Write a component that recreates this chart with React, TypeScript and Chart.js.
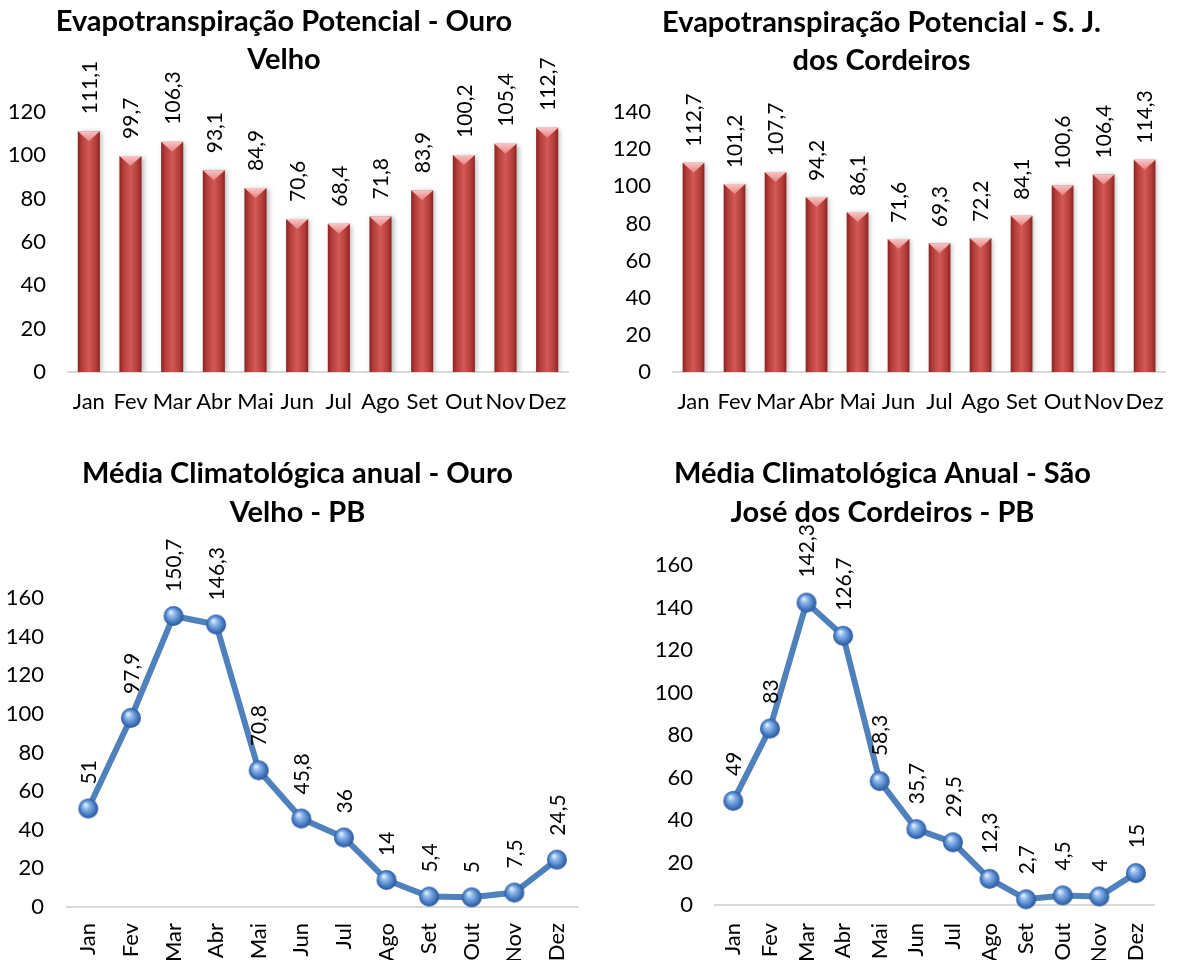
import React, { useEffect, useRef } from 'react';
import { Chart, registerables } from 'chart.js';

Chart.register(...registerables);

// ---------- data ----------
const months = ['Jan', 'Fev', 'Mar', 'Abr', 'Mai', 'Jun', 'Jul', 'Ago', 'Set', 'Out', 'Nov', 'Dez'];
const etpOuroVelho = [111.1, 99.7, 106.3, 93.1, 84.9, 70.6, 68.4, 71.8, 83.9, 100.2, 105.4, 112.7];
const etpSaoJose = [112.7, 101.2, 107.7, 94.2, 86.1, 71.6, 69.3, 72.2, 84.1, 100.6, 106.4, 114.3];
const chuvaOuroVelho = [51, 97.9, 150.7, 146.3, 70.8, 45.8, 36, 14, 5.4, 5, 7.5, 24.5];
const chuvaSaoJose = [49, 83, 142.3, 126.7, 58.3, 35.7, 29.5, 12.3, 2.7, 4.5, 4, 15];

const title1 = ['Evapotranspiração Potencial - Ouro', 'Velho'];
const title2 = ['Evapotranspiração Potencial - S. J.', 'dos Cordeiros'];
const title3 = ['Média Climatológica anual - Ouro', 'Velho - PB'];
const title4 = ['Média Climatológica Anual - São', 'José dos Cordeiros - PB'];

// ---------- styling ----------
const FONT = 'Lato, "Open Sans", sans-serif';
const BAR_PCT = 0.53;
const tickFont = { family: FONT, size: 22 };
const LABEL_SIZE = 21;

function fmt(v: number) {
  return String(v).replace('.', ',');
}

const valueLabels = {
  id: 'valueLabels',
  afterDatasetsDraw(chart: any, _args: any, opts: any) {
    const { ctx } = chart;
    const meta = chart.getDatasetMeta(0);
    const data = chart.data.datasets[0].data as number[];
    ctx.save();
    ctx.font = `${opts.size}px ${FONT}`;
    ctx.fillStyle = '#000';
    ctx.textAlign = 'left';
    ctx.textBaseline = 'middle';
    meta.data.forEach((el: any, i: number) => {
      ctx.save();
      ctx.translate(el.x + 1, el.y - opts.offset);
      ctx.rotate(-Math.PI / 2);
      ctx.fillText(fmt(data[i]), 0, 0);
      ctx.restore();
    });
    ctx.restore();
  },
};

const barEffects = {
  id: 'barEffects',
  beforeDatasetDraw(chart: any) {
    if (chart.config.type !== 'bar') return;
    const ctx = chart.ctx;
    ctx.save();
    ctx.shadowColor = 'rgba(0,0,0,0.28)';
    ctx.shadowBlur = 5;
    ctx.shadowOffsetX = 2;
    ctx.shadowOffsetY = 1;
  },
  afterDatasetDraw(chart: any) {
    if (chart.config.type !== 'bar') return;
    const ctx = chart.ctx;
    ctx.restore();
    const meta = chart.getDatasetMeta(0);
    ctx.save();
    meta.data.forEach((el: any) => {
      const w = el.width;
      const l = el.x - w / 2;
      const r = el.x + w / 2;
      const t = el.y;
      const g = ctx.createLinearGradient(0, t, 0, t + 10);
      g.addColorStop(0, 'rgba(250,205,205,0.95)');
      g.addColorStop(1, 'rgba(235,140,138,0.85)');
      ctx.fillStyle = g;
      ctx.beginPath();
      ctx.moveTo(l, t);
      ctx.lineTo(r, t);
      ctx.lineTo(el.x, t + 10);
      ctx.closePath();
      ctx.fill();
    });
    ctx.restore();
  },
};

function barFill(c: any) {
  const chart = c.chart;
  const xs = chart.scales && chart.scales.x;
  if (!xs || c.dataIndex === undefined || !chart.chartArea) return '#C0504D';
  const cx = xs.getPixelForValue(c.dataIndex);
  const w = (xs.width / months.length) * BAR_PCT;
  const g = chart.ctx.createLinearGradient(cx - w / 2, 0, cx + w / 2, 0);
  g.addColorStop(0, '#8A2422');
  g.addColorStop(0.18, '#B33D3A');
  g.addColorStop(0.5, '#D35955');
  g.addColorStop(0.82, '#B33D3A');
  g.addColorStop(1, '#8A2422');
  return g;
}

function makeSphere(r: number) {
  const c = document.createElement('canvas');
  const s = r * 2 + 2;
  c.width = s;
  c.height = s;
  const g = c.getContext('2d') as CanvasRenderingContext2D;
  const cx = s / 2;
  const cy = s / 2;
  const grad = g.createRadialGradient(cx - r * 0.3, cy - r * 0.4, r * 0.05, cx, cy, r);
  grad.addColorStop(0, '#E4F0FD');
  grad.addColorStop(0.3, '#8DB8EC');
  grad.addColorStop(0.75, '#4478C0');
  grad.addColorStop(1, '#2A5597');
  g.fillStyle = grad;
  g.beginPath();
  g.arc(cx, cy, r, 0, Math.PI * 2);
  g.fill();
  return c;
}

function yScale(max: number, width: number, pad: number) {
  return {
    min: 0,
    max,
    ticks: { stepSize: 20, padding: pad, color: '#000', font: tickFont },
    grid: { display: false, drawTicks: false },
    border: { display: false },
    afterFit: (s: any) => {
      s.width = width;
    },
  };
}

function xScale(height: number, pad: number, rotate: boolean) {
  return {
    offset: true,
    ticks: {
      padding: pad,
      color: '#000',
      font: tickFont,
      autoSkip: false,
      minRotation: rotate ? 90 : 0,
      maxRotation: rotate ? 90 : 0,
    },
    grid: { display: false, drawTicks: false },
    border: { display: true, color: '#D9D9D9', width: 2 },
    afterFit: (s: any) => {
      s.height = height;
    },
  };
}

type Spec = {
  kind: 'bar' | 'line';
  data: number[];
  title: string[];
  left: number;
  top: number;
  width: number;
  height: number;
  padRight: number;
  titleTop: number;
  titleBottom: number;
  titleLH: number;
  yMax: number;
  yWidth: number;
  yPad: number;
  xHeight: number;
  xPad: number;
  labelOffset: number;
};

function ChartBox({ spec }: { spec: Spec }) {
  const ref = useRef<HTMLCanvasElement>(null);
  useEffect(() => {
    if (!ref.current) return;
    const isBar = spec.kind === 'bar';
    const dataset: any = isBar
      ? {
          data: spec.data,
          backgroundColor: barFill,
          borderWidth: 0,
          barPercentage: BAR_PCT,
          categoryPercentage: 1,
        }
      : {
          data: spec.data,
          borderColor: '#4F81BD',
          borderWidth: 6,
          tension: 0,
          pointStyle: makeSphere(10),
          pointRadius: 10,
          clip: false,
        };
    const chart = new Chart(ref.current, {
      type: spec.kind,
      data: { labels: months, datasets: [dataset] },
      options: {
        responsive: false,
        animation: false,
        layout: { padding: { left: 0, right: spec.padRight, top: 0, bottom: 0 } },
        scales: {
          x: xScale(spec.xHeight, spec.xPad, !isBar) as any,
          y: yScale(spec.yMax, spec.yWidth, spec.yPad) as any,
        },
        plugins: {
          legend: { display: false },
          tooltip: { enabled: false },
          title: {
            display: true,
            text: spec.title,
            color: '#000',
            font: { family: FONT, size: 29, weight: 'bold', lineHeight: `${spec.titleLH}px` } as any,
            padding: { top: spec.titleTop, bottom: spec.titleBottom },
          },
          valueLabels: { size: LABEL_SIZE, offset: spec.labelOffset },
        } as any,
      },
      plugins: [valueLabels, barEffects],
    });
    return () => chart.destroy();
  }, [spec]);
  return (
    <canvas
      ref={ref}
      width={spec.width}
      height={spec.height}
      style={{ position: 'absolute', left: spec.left, top: spec.top, width: spec.width, height: spec.height }}
    />
  );
}

const specs: Spec[] = [
  {
    kind: 'bar', data: etpOuroVelho, title: title1,
    left: 0, top: 0, width: 590, height: 440, padRight: 22,
    titleTop: 3, titleBottom: 33, titleLH: 38,
    yMax: 120, yWidth: 68, yPad: 22, xHeight: 68, xPad: 17, labelOffset: 17,
  },
  {
    kind: 'bar', data: etpSaoJose, title: title2,
    left: 590, top: 0, width: 591, height: 440, padRight: 8,
    titleTop: 4, titleBottom: 32, titleLH: 38,
    yMax: 140, yWidth: 83, yPad: 22, xHeight: 68, xPad: 17, labelOffset: 16,
  },
  {
    kind: 'line', data: chuvaOuroVelho, title: title3,
    left: 0, top: 450, width: 600, height: 560, padRight: 5,
    titleTop: 4.5, titleBottom: 65.5, titleLH: 39,
    yMax: 160, yWidth: 67, yPad: 23, xHeight: 103, xPad: 16, labelOffset: 24,
  },
  {
    kind: 'line', data: chuvaSaoJose, title: title4,
    left: 590, top: 450, width: 591, height: 560, padRight: 6,
    titleTop: 4.5, titleBottom: 32.5, titleLH: 39,
    yMax: 160, yWidth: 125, yPad: 22, xHeight: 105, xPad: 18, labelOffset: 25,
  },
];

export default function App() {
  return (
    <div style={{ position: 'absolute', left: 0, top: 0, width: 1181, height: 1010, background: '#fff' }}>
      {specs.map((s, i) => (
        <ChartBox key={i} spec={s} />
      ))}
    </div>
  );
}
